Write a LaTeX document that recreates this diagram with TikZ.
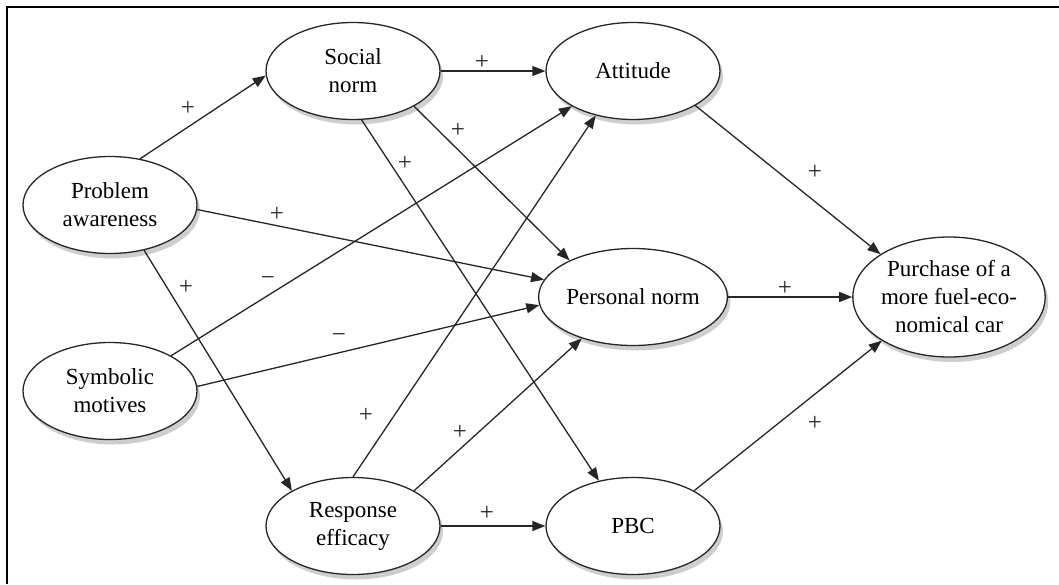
\documentclass[tikz,border=0pt]{standalone}
\usepackage{fontspec}
\setmainfont{Liberation Serif}
\usetikzlibrary{shapes.geometric,arrows.meta,shadows}
\begin{document}
\begin{tikzpicture}[x=1pt,y=-1pt,
  var/.style={ellipse,draw=black!85,line width=1.3pt,fill=white,minimum width=174pt,minimum height=97pt,
    inner sep=0pt,align=center,font=\fontsize{23}{28}\selectfont,
    drop shadow={shadow xshift=3pt,shadow yshift=-5pt,fill=black!38}},
  arr/.style={draw=black!85,line width=1.3pt,-{Triangle[length=13pt,width=10pt]}},
  sign/.style={font=\fontsize{25}{27}\selectfont,inner sep=0pt,text=black!85}]
\useasboundingbox (0,0) rectangle (1059,584);
\draw[line width=2.2pt] (7,584) -- (7,7) -- (1059,7);

\node[var] (PA) at (110,205) {Problem\\awareness};
\node[var] (SN) at (353,71) {Social\\norm};
\node[var] (SM) at (110,391) {Symbolic\\motives};
\node[var] (RE) at (353,526) {Response\\efficacy};
\node[var] (AT) at (633,71) {Attitude};
\node[var] (PN) at (633,297) {Personal norm};
\node[var] (PB) at (633,526) {PBC};
\node[var,minimum width=192pt,minimum height=120pt] (PU) at (949,297) {Purchase of a\\more fuel-eco-\\nomical car};

\draw[arr] (PA.57) -- (SN.183);
\draw[arr] (PA.-3) -- (PN.169);
\draw[arr] (PA.-53) -- (RE.150);
\draw[arr] (SN.0) -- (AT.180);
\draw[arr] (SN.-30) -- (PN.150);
\draw[arr] (SN.-80) -- (PB.127);
\draw[arr] (SM.30) -- (AT.210);
\draw[arr] (SM.3) -- (PN.185);
\draw[arr] (RE.90) -- (AT.230);
\draw[arr] (RE.30) -- (PN.219);
\draw[arr] (RE.0) -- (PB.180);
\draw[arr] (AT.-29) -- (PU.148);
\draw[arr] (PN.0) -- (PU.180);
\draw[arr] (PB.30) -- (PU.213);

\node[sign] (s1) at (188,108) {+};
\node[sign] (s2) at (482,62) {+};
\node[sign] (s3) at (458,130) {+};
\node[sign] (s4) at (405,163) {+};
\node[sign] (s5) at (277,214) {+};
\node[sign] (s6) at (186,287) {+};
\node[sign] (s7) at (268,281) {−};
\node[sign] (s8) at (339,338) {−};
\node[sign] (s9) at (366,415) {+};
\node[sign] (s10) at (460,432) {+};
\node[sign] (s11) at (487,513) {+};
\node[sign] (s12) at (815,172) {+};
\node[sign] (s13) at (785,288) {+};
\node[sign] (s14) at (815,423) {+};
\end{tikzpicture}
\end{document}
